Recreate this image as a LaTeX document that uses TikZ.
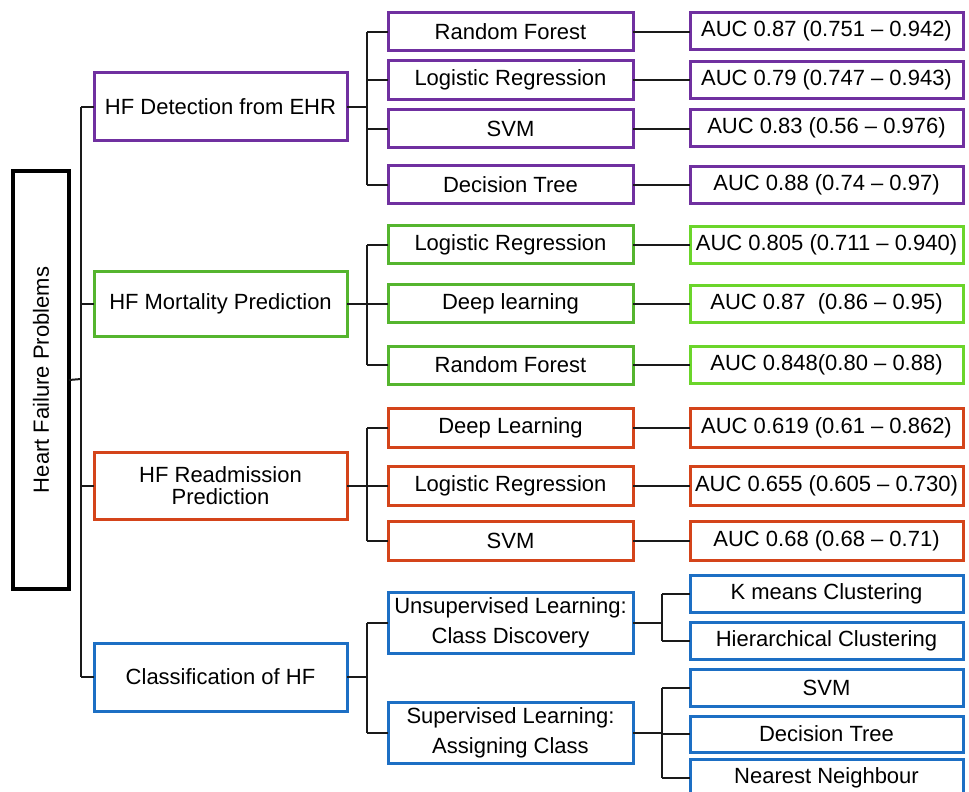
\documentclass[tikz,border=0pt]{standalone}
\usepackage{fontspec}
\setmainfont{Liberation Sans}
\usepackage{graphicx}
\definecolor{purp}{HTML}{7030A0}
\definecolor{grnL}{HTML}{55B52E}
\definecolor{grnR}{HTML}{6BD52A}
\definecolor{orng}{HTML}{D4441A}
\definecolor{blu}{HTML}{1D6FC4}
\definecolor{lnk}{HTML}{1A1A1A}
\tikzset{
  box/.style={draw, line width=3pt, inner sep=0pt, outer sep=0pt, align=center,
    font=\fontsize{22}{23}\selectfont, text=black, fill=white},
  lv1/.style={box, minimum width=253pt, minimum height=67pt},
  lv2/.style={box, minimum width=245pt, minimum height=38pt},
  auc/.style={box, minimum width=273pt, minimum height=37pt},
  conn/.style={line width=2pt, draw=lnk},
}
\begin{document}
\begin{tikzpicture}[x=1pt,y=-1pt]
\useasboundingbox (0,0) rectangle (969,792);
% root
\node[box, draw=black, line width=3.4pt, minimum width=56pt, minimum height=418pt] (root) at (41,380)
  {\rotatebox{90}{Heart Failure Problems}};
% level 1
\node[lv1, draw=purp] (det) at (220.5,106.5) {HF Detection from EHR};
\node[lv1, draw=grnL, minimum height=65pt] (mor) at (220.5,303.5) {HF Mortality Prediction};
\node[lv1, draw=orng, font=\fontsize{22}{22}\selectfont] (rea) at (220.5,485.5) {HF Readmission\\Prediction};
\node[lv1, draw=blu, minimum height=68pt] (cls) at (220.5,677) {Classification of HF};
% level 2 purple
\node[lv2, draw=purp] (d1) at (510.5,32) {Random Forest};
\node[lv2, draw=purp] (d2) at (510.5,80) {Logistic Regression};
\node[lv2, draw=purp] (d3) at (510.5,128.5) {SVM};
\node[lv2, draw=purp] (d4) at (510.5,184.5) {Decision Tree};
\node[auc, draw=purp] (a1) at (826.5,31) {AUC 0.87 (0.751 – 0.942)};
\node[auc, draw=purp] (a2) at (826.5,80) {AUC 0.79 (0.747 – 0.943)};
\node[auc, draw=purp] (a3) at (826.5,128) {AUC 0.83 (0.56 – 0.976)};
\node[auc, draw=purp] (a4) at (826.5,184.5) {AUC 0.88 (0.74 – 0.97)};
% level 2 green
\node[lv2, draw=grnL] (m1) at (510.5,244.5) {Logistic Regression};
\node[lv2, draw=grnL] (m2) at (510.5,303.5) {Deep learning};
\node[lv2, draw=grnL] (m3) at (510.5,365) {Random Forest};
\node[auc, draw=grnR] (b1) at (826.5,244.5) {AUC 0.805 (0.711 – 0.940)};
\node[auc, draw=grnR] (b2) at (826.5,304) {AUC 0.87~ (0.86 – 0.95)};
\node[auc, draw=grnR] (b3) at (826.5,365) {AUC 0.848(0.80 – 0.88)};
% level 2 orange
\node[lv2, draw=orng, minimum height=39pt] (r1) at (510.5,427.5) {Deep Learning};
\node[lv2, draw=orng, minimum height=39pt] (r2) at (510.5,485.5) {Logistic Regression};
\node[lv2, draw=orng, minimum height=39pt] (r3) at (510.5,541) {SVM};
\node[auc, draw=orng, minimum height=39pt] (c1) at (826.5,427.5) {AUC 0.619 (0.61 – 0.862)};
\node[auc, draw=orng, minimum height=39pt] (c2) at (826.5,485.5) {AUC 0.655 (0.605 – 0.730)};
\node[auc, draw=orng, minimum height=39pt] (c3) at (826.5,541) {AUC 0.68 (0.68 – 0.71)};
% level 2 blue
\node[lv2, draw=blu, minimum height=61pt, font=\fontsize{22}{30}\selectfont] (u1) at (510.5,622.5) {Unsupervised Learning:\\Class Discovery};
\node[lv2, draw=blu, minimum height=61pt, font=\fontsize{22}{30}\selectfont] (u2) at (510.5,732.5) {Supervised Learning:\\Assigning Class};
\node[auc, draw=blu] (k1) at (826.5,593.5) {K means Clustering};
\node[auc, draw=blu] (k2) at (826.5,640.5) {Hierarchical Clustering};
\node[auc, draw=blu] (k3) at (826.5,687.5) {SVM};
\node[auc, draw=blu, minimum height=36pt] (k4) at (826.5,734) {Decision Tree};
\node[auc, draw=blu] (k5) at (826.5,778) {Nearest Neighbour};
% junction coordinates
\coordinate (tr) at (81,379);
\coordinate (jx) at (367,0);
\coordinate (kx) at (662,0);
% root to trunk
\draw[conn] (root.east) -- (tr);
\draw[conn] (tr |- det) -- (tr |- cls);
\foreach \n in {det,mor,rea,cls} \draw[conn] (tr |- \n) -- (\n.west);
% level1 to level2
\foreach \p/\a/\b in {det/d1/d4, mor/m1/m3, rea/r1/r3, cls/u1/u2} {
  \draw[conn] (\p.east) -- (jx |- \p);
  \draw[conn] (jx |- \a) -- (jx |- \b);
}
\foreach \n in {d1,d2,d3,d4,m1,m2,m3,r1,r2,r3,u1,u2} \draw[conn] (jx |- \n) -- (\n.west);
% level2 to auc
\foreach \l/\r in {d1/a1,d2/a2,d3/a3,d4/a4,m1/b1,m2/b2,m3/b3,r1/c1,r2/c2,r3/c3}
  \draw[conn] (\l.east) -- (\l.east -| \r.west);
% blue third level
\draw[conn] (u1.east) -- (kx |- u1);
\draw[conn] (kx |- k1) -- (kx |- k2);
\draw[conn] (u2.east) -- (kx |- u2);
\draw[conn] (kx |- k3) -- (kx |- k5);
\foreach \n in {k1,k2,k3,k4,k5} \draw[conn] (kx |- \n) -- (\n.west);
\end{tikzpicture}
\end{document}
